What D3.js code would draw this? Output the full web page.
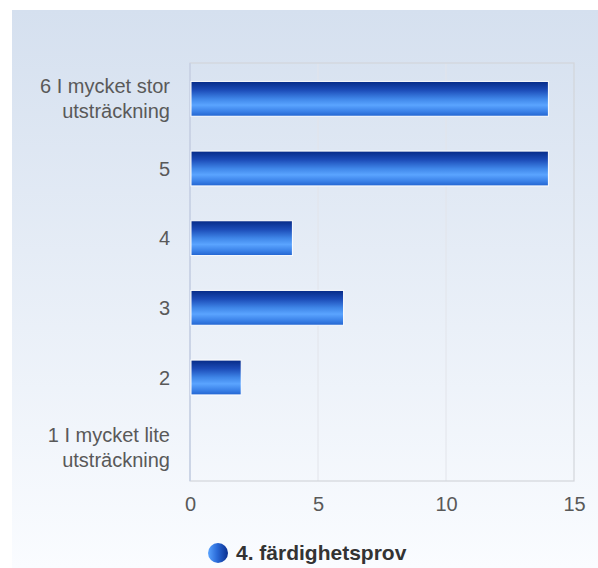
<!DOCTYPE html>
<html><head><meta charset="utf-8">
<script src="https://cdn.jsdelivr.net/npm/d3@7"></script>
<style>html,body{margin:0;padding:0;background:#fff;}svg{display:block;}</style>
</head><body>
<script>
const categories = ["6 I mycket stor\nutsträckning","5","4","3","2","1 I mycket lite\nutsträckning"];
const values = [14,14,4,6,2,0];
const xTicks = [0,5,10,15];
const seriesName = "4. färdighetsprov";

const W=598,H=568;
const svg=d3.select("body").append("svg").attr("width",W).attr("height",H);
const defs=svg.append("defs");
const bg=defs.append("linearGradient").attr("id","bg").attr("x1",0).attr("y1",0).attr("x2",0).attr("y2",1);
bg.append("stop").attr("offset","0%").attr("stop-color","#d5e0ef");
bg.append("stop").attr("offset","100%").attr("stop-color","#fafcff");
const bar=defs.append("linearGradient").attr("id","bar").attr("x1",0).attr("y1",0).attr("x2",0).attr("y2",1);
[["0%","#062a86"],["25%","#1c4cb8"],["50%","#3f86e8"],["68%","#5aa4ff"],["85%","#3d84ea"],["100%","#2264d0"]]
  .forEach(s=>bar.append("stop").attr("offset",s[0]).attr("stop-color",s[1]));
const leg=defs.append("linearGradient").attr("id","leg").attr("x1",0).attr("y1",0).attr("x2",1).attr("y2",0);
leg.append("stop").attr("offset","0%").attr("stop-color","#5aa4ff");
leg.append("stop").attr("offset","45%").attr("stop-color","#2a6ad8");
leg.append("stop").attr("offset","100%").attr("stop-color","#0a2f8f");

svg.append("rect").attr("x",12).attr("y",10).attr("width",W-12).attr("height",H-10).attr("fill","url(#bg)");

const L=190,R=574,T=63,B=481;
const x=d3.scaleLinear().domain([0,15]).range([L,R]);
const y=d3.scaleBand().domain(categories).range([T,B]).paddingInner(0.5).paddingOuter(0.25);

// gridlines
svg.append("g").selectAll("line").data(xTicks.slice(1,-1)).join("line")
  .attr("x1",d=>x(d)).attr("x2",d=>x(d)).attr("y1",T).attr("y2",B)
  .attr("stroke","#e2e4ea").attr("stroke-width",1);
svg.append("rect").attr("x",L).attr("y",T).attr("width",R-L).attr("height",B-T)
  .attr("fill","none").attr("stroke","#d2d5db").attr("stroke-width",1.2);
svg.append("line").attr("x1",L).attr("x2",L).attr("y1",T).attr("y2",B).attr("stroke","#c6d0e6").attr("stroke-width",1.5);

// bars
svg.append("g").selectAll("rect").data(categories.map((c,i)=>({c,v:values[i]})).filter(d=>d.v>0)).join("rect")
  .attr("x",x(0)+1).attr("y",d=>y(d.c)+1).attr("width",d=>x(d.v)-x(0)-1).attr("height",y.bandwidth())
  .attr("fill","url(#bar)").attr("stroke","#ffffff").attr("stroke-width",1);

const FONT="Liberation Sans, Arial, sans-serif";
// x axis labels
const xa=svg.append("g").attr("transform",`translate(0,${B})`).call(d3.axisBottom(x).tickValues(xTicks).tickSize(0).tickPadding(16));
xa.select(".domain").remove();
xa.selectAll("text").attr("font-family",FONT).attr("font-size",20).attr("fill","#595959");

// y labels
const ya=svg.append("g");
categories.forEach(c=>{
  const lines=c.split("\n");
  const cy=y(c)+y.bandwidth()/2+1;
  const t=ya.append("text").attr("x",170).attr("text-anchor","end")
    .attr("font-family",FONT).attr("font-size",20).attr("fill","#595959");
  const lh=25;
  const y0=cy-(lines.length-1)*lh/2;
  lines.forEach((l,i)=>t.append("tspan").attr("x",170).attr("y",y0+i*lh).attr("dy","0.35em").text(l));
});

// legend
svg.append("circle").attr("cx",218).attr("cy",553).attr("r",10).attr("fill","url(#leg)");
svg.append("text").attr("x",236).attr("y",553).attr("dy","0.35em")
  .attr("font-family",FONT).attr("font-size",21).attr("font-weight","bold").attr("fill","#333")
  .text(seriesName);
</script>
</body></html>
